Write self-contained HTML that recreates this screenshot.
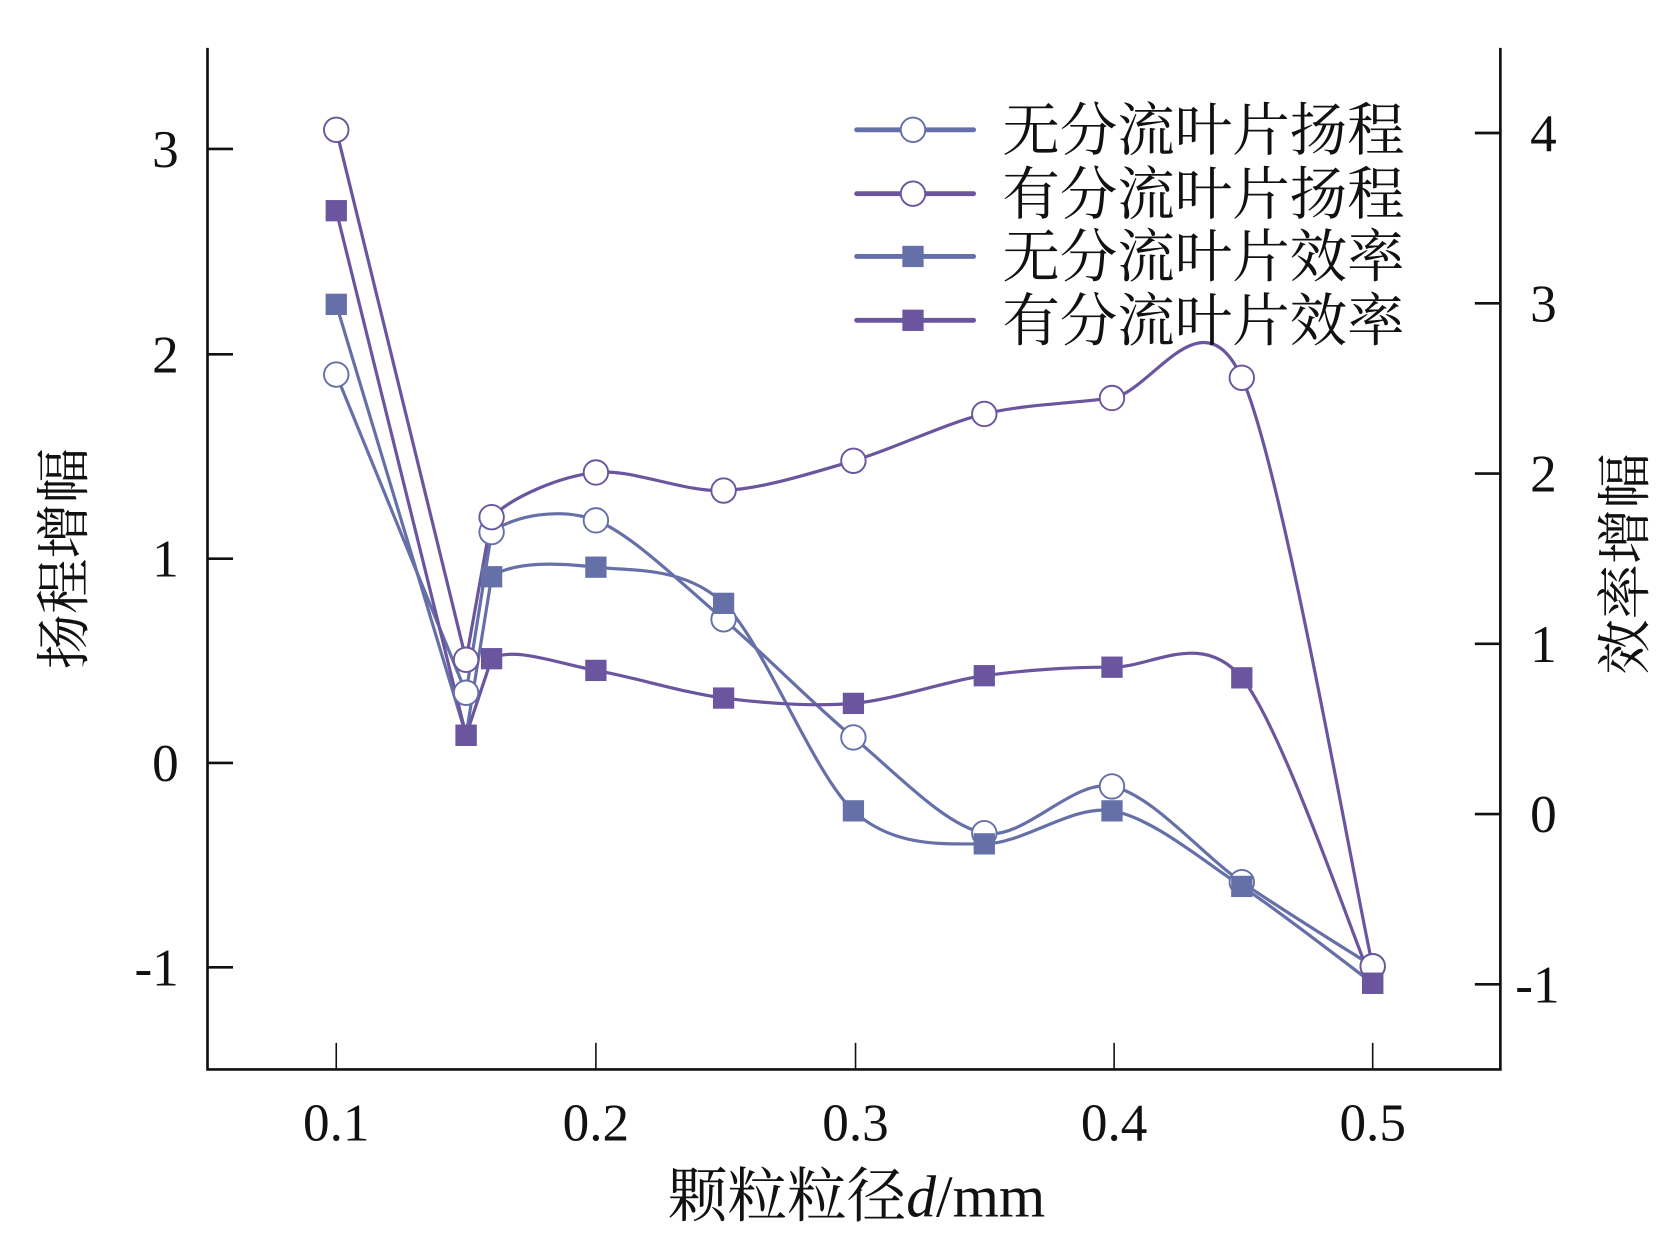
<!DOCTYPE html>
<html><head><meta charset="utf-8"><style>
html,body{margin:0;padding:0;background:#fff;}
svg{display:block;}
text{font-family:"Liberation Serif","Noto Serif CJK SC",serif;fill:#111;}
</style></head><body>
<svg id="s" width="1660" height="1238" viewBox="0 0 1560 1163.4" preserveAspectRatio="none" xmlns="http://www.w3.org/2000/svg">
<g stroke="#111" stroke-width="2.5" fill="none">
<path d="M195,45 V1005 H1410 V45"/>
<path d="M195,140 H219 M195,333 H219 M195,525 H219 M195,717 H219 M195,909 H219"/>
<path d="M1410,125 H1386 M1410,285 H1386 M1410,445 H1386 M1410,605 H1386 M1410,765 H1386 M1410,925 H1386"/>
<path d="M316,1005 V980 M560,1005 V980 M804,1005 V980 M1047,1005 V980 M1290,1005 V980" stroke-width="1.5"/>
</g>
<g font-size="50" text-anchor="end">
<text x="168" y="157">3</text><text x="168" y="350">2</text><text x="168" y="542">1</text><text x="168" y="734">0</text><text x="168" y="926">-1</text>
</g>
<g font-size="50">
<text x="1438" y="142">4</text><text x="1438" y="302">3</text><text x="1438" y="462">2</text><text x="1438" y="622">1</text><text x="1438" y="782">0</text><text x="1424" y="942">-1</text>
</g>
<g font-size="50" text-anchor="middle">
<text x="316" y="1072">0.1</text><text x="560" y="1072">0.2</text><text x="804" y="1072">0.3</text><text x="1047" y="1072">0.4</text><text x="1290" y="1072">0.5</text>
</g>
<text x="805" y="1143" font-size="56" text-anchor="middle">颗粒粒径<tspan font-style="italic">d</tspan>/mm</text>
<text transform="translate(78,525) rotate(-90)" font-size="52" text-anchor="middle">扬程增幅</text>
<text transform="translate(1545,530) rotate(-90)" font-size="52" text-anchor="middle">效率增幅</text>
<g id="series"></g>
<g font-size="54">
<text x="942" y="141">无分流叶片扬程</text>
<text x="942" y="201">有分流叶片扬程</text>
<text x="942" y="260">无分流叶片效率</text>
<text x="942" y="320">有分流叶片效率</text>
</g>
</svg>
<script>
var B="#6670a8",P="#6a559e";
var S=[
{c:B,m:"o",p:[[316,352],[438,651],[462,500],[560,489],[680,582],[802,693],[925,783],[1045,739],[1167,829],[1290,908]],ly:122},
{c:P,m:"o",p:[[316,122],[438,620],[462,486],[560,444],[680,461],[802,433],[925,389],[1045,374],[1167,355],[1290,908]],ly:182},
{c:B,m:"s",p:[[316,286],[438,691],[462,542],[560,533],[680,567],[802,762],[925,793],[1045,762],[1167,833],[1290,924]],ly:241},
{c:P,m:"s",p:[[316,198],[438,691],[462,619],[560,630],[680,656],[802,661],[925,635],[1045,627],[1167,637],[1290,924]],ly:301}];
var g=document.getElementById("series"),h="";
function cr(p){var d="M"+p[0][0]+","+p[0][1]+" L"+p[1][0]+","+p[1][1]+" L"+p[2][0]+","+p[2][1];for(var i=2;i<p.length-1;i++){var b=p[i],c=p[i+1],a=(i==2)?[b[0]-40,b[1]+90]:p[i-1],e=p[Math.min(i+2,p.length-1)];var t=6.5;d+=" C"+(b[0]+(c[0]-a[0])/t)+","+(b[1]+(c[1]-a[1])/t)+" "+(c[0]-(e[0]-b[0])/t)+","+(c[1]-(e[1]-b[1])/t)+" "+c[0]+","+c[1];}return d;}
function mk(s,x,y){return s.m=="o"?'<circle cx="'+x+'" cy="'+y+'" r="11.5" fill="#fff" stroke="'+s.c+'" stroke-width="1.8"/>':'<rect x="'+(x-10)+'" y="'+(y-10)+'" width="20" height="20" fill="'+s.c+'"/>';}
S.forEach(function(s){h+='<path d="'+cr(s.p)+'" fill="none" stroke="'+s.c+'" stroke-width="3" stroke-linejoin="round"/>';});
S.forEach(function(s){s.p.forEach(function(q){h+=mk(s,q[0],q[1]);});h+='<path d="M805,'+s.ly+' H915" stroke="'+s.c+'" stroke-width="4.5" stroke-linecap="round"/>'+mk(s,858,s.ly);});
g.innerHTML=h;
</script>
</body></html>
